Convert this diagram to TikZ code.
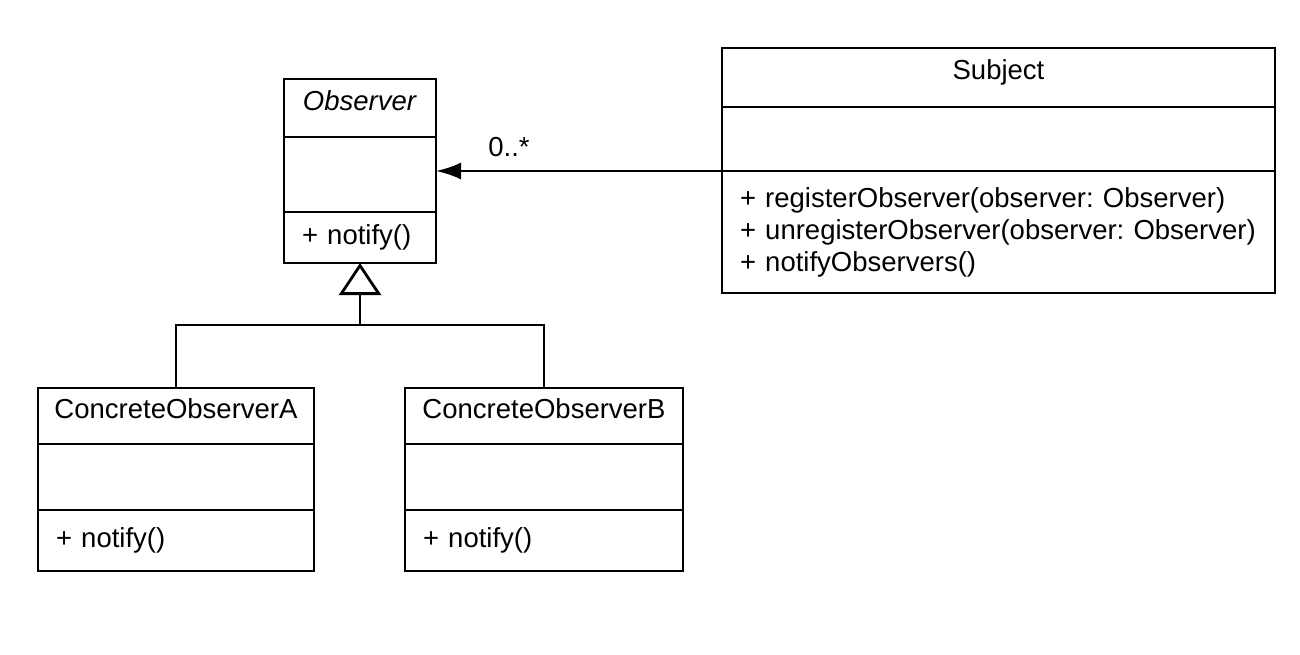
\documentclass[tikz,border=0pt]{standalone}
\usepackage{fontspec}
\setmainfont{Liberation Sans}
\usetikzlibrary{arrows.meta}
\frenchspacing
\begin{document}
\begin{tikzpicture}[x=1pt,y=-1pt,
  base/.style={draw, line width=2.8pt, outer sep=0pt, inner sep=0pt, anchor=north west,
    font=\fontsize{27.5}{32}\selectfont\frenchspacing},
  ttl/.style={base, text height=0.72em, text depth=0.26em},
  cmp/.style={base},
  ops/.style={base, align=left, inner xsep=18pt},
  assoc/.style={line width=2.5pt, -{Latex[length=25pt, width=17pt]}},
  inh/.style={line width=2.8pt, -{Triangle[open, length=32pt, width=42pt, line width=2.8pt]}},
  lbl/.style={font=\fontsize{27.5}{33}\selectfont, inner sep=0pt}
]
\useasboundingbox[fill=white] (0,0) rectangle (1300,655);

% Observer
\node[ttl, minimum width=152, minimum height=58] (obsT) at (284,79) {\textit{Observer}};
\node[cmp, minimum width=152, minimum height=75] (obsM) at (obsT.south west) {};
\node[ops, minimum height=51, text width=116pt] (obsB) at (obsM.south west) {+ notify()};

% Subject
\node[ttl, minimum width=553, minimum height=59] (subT) at (722,48) {Subject};
\node[cmp, minimum width=553, minimum height=64] (subM) at (subT.south west) {};
\node[ops, minimum height=122, text width=517pt] (subB) at (subM.south west)
  {+ registerObserver(observer: Observer)\\+ unregisterObserver(observer: Observer)\\+ notifyObservers()};

% ConcreteObserverA
\node[ttl, minimum width=276, minimum height=56] (caT) at (38,388) {ConcreteObserverA};
\node[cmp, minimum width=276, minimum height=66] (caM) at (caT.south west) {};
\node[ops, minimum height=61, text width=240pt] (caB) at (caM.south west) {+ notify()};

% ConcreteObserverB
\node[ttl, minimum width=278, minimum height=56] (cbT) at (405,388) {ConcreteObserverB};
\node[cmp, minimum width=278, minimum height=66] (cbM) at (cbT.south west) {};
\node[ops, minimum height=61, text width=242pt] (cbB) at (cbM.south west) {+ notify()};

% association
\coordinate (aEnd) at (obsM.east |- subB.north west);
\draw[assoc] (subB.north west) -- (aEnd);
\node[lbl] (mult) at (509,147) {0..*};

% generalization
\coordinate (junc) at (360,325);
\draw[line width=2.8pt] (caT.north) |- (junc) -| (cbT.north);
\draw[inh] (junc) -- (obsB.south);
\end{tikzpicture}
\end{document}
